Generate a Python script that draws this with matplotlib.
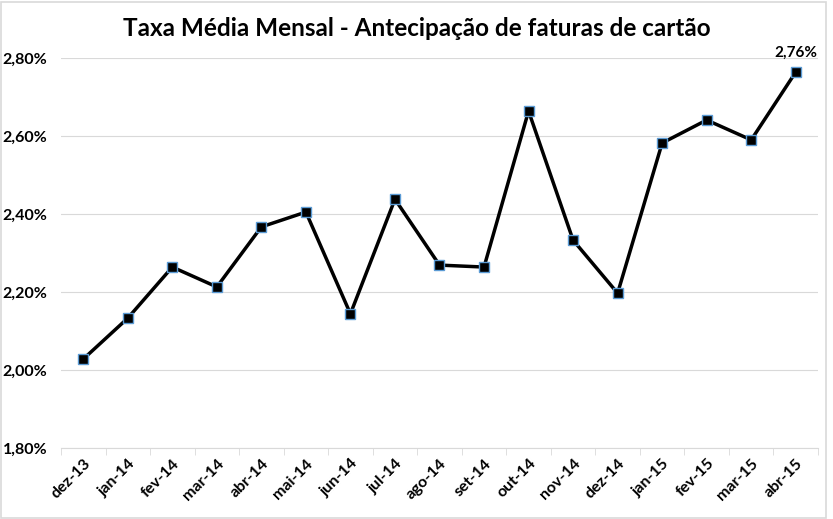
import matplotlib
matplotlib.use("Agg")
import matplotlib.pyplot as plt
from matplotlib.patches import Rectangle
from matplotlib.ticker import FuncFormatter, MultipleLocator, FixedLocator, NullFormatter

months = ["dez-13", "jan-14", "fev-14", "mar-14", "abr-14", "mai-14", "jun-14", "jul-14",
          "ago-14", "set-14", "out-14", "nov-14", "dez-14", "jan-15", "fev-15", "mar-15", "abr-15"]
rates = [2.028, 2.133, 2.264, 2.213, 2.367, 2.405, 2.144, 2.438,
         2.269, 2.264, 2.664, 2.333, 2.197, 2.582, 2.641, 2.590, 2.764]
title = "Taxa Média Mensal - Antecipação de faturas de cartão"

plt.rcParams['font.family'] = ['Lato', 'DejaVu Sans']

fig = plt.figure(figsize=(8.33, 5.19), dpi=100)
ax = fig.add_axes([0.0732, 0.1368, 0.9088, 0.7514])

x = list(range(len(months)))
ax.plot(x, rates, color="black", linewidth=2.5, marker="s", markersize=7,
        markerfacecolor="black", markeredgecolor="#5b9bd5", markeredgewidth=1.0, zorder=3)

ax.annotate("2,76%", (x[-1], rates[-1]), xytext=(0, 9), textcoords="offset points",
            ha="center", va="bottom", fontsize=11, fontweight="bold")

ax.set_xlim(-0.5, len(months) - 0.5)
ax.set_ylim(1.8, 2.8)
ax.yaxis.set_major_locator(MultipleLocator(0.2))
ax.yaxis.set_major_formatter(FuncFormatter(lambda v, p: f"{v:.2f}%".replace(".", ",")))
ax.grid(axis="y", color="#d9d9d9", linewidth=0.8)
ax.set_axisbelow(True)

ax.set_xticks(x)
ax.set_xticklabels(months, rotation=45, ha="right", rotation_mode="anchor",
                   fontsize=11.5, fontweight="bold")
ax.tick_params(axis="x", length=0, pad=6)
ax.xaxis.set_minor_locator(FixedLocator([i - 0.5 for i in range(len(months) + 1)]))
ax.xaxis.set_minor_formatter(NullFormatter())
ax.tick_params(axis="x", which="minor", length=5, color="#d9d9d9", direction="out")
ax.tick_params(axis="y", length=0, pad=10)
for lab in ax.get_yticklabels():
    lab.set_fontweight("bold")
    lab.set_fontsize(11.5)

for s in ["top", "right", "left"]:
    ax.spines[s].set_visible(False)
ax.spines["bottom"].set_color("#d9d9d9")

fig.text(0.5, 0.946, title, ha="center", va="center", fontsize=17.5, fontweight="bold")

fig.patches.append(Rectangle((0.001, 0.002), 0.99, 0.995, transform=fig.transFigure,
                             fill=False, edgecolor="#d9d9d9", linewidth=1.2))

fig.savefig("out.png", dpi=100)
